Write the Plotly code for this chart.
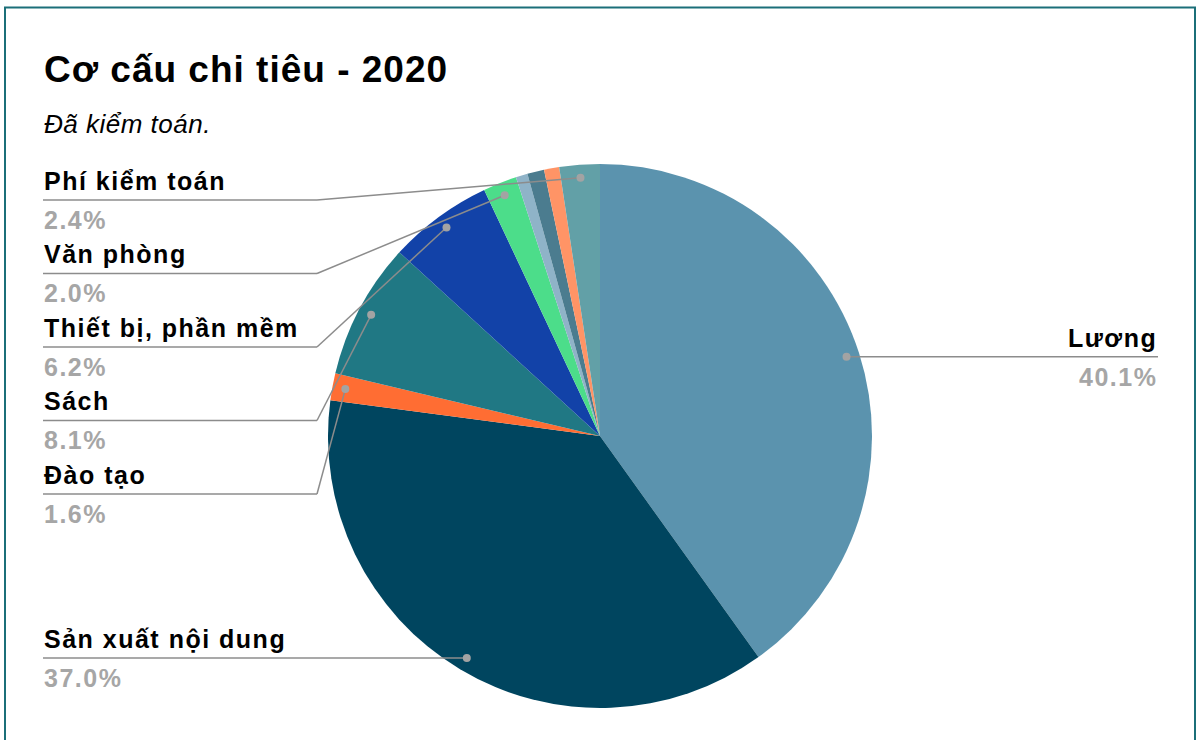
import math
import plotly.graph_objects as go

# ---------------- data ----------------
categories = ["Lương", "Sản xuất nội dung", "Đào tạo", "Sách", "Thiết bị, phần mềm",
              "Văn phòng", "Khác (1)", "Khác (2)", "Khác (3)", "Phí kiểm toán"]
values = [40.1, 37.0, 1.6, 8.1, 6.2, 2.0, 0.7, 1.0, 0.9, 2.4]
colors = ["#5b93ae", "#00455f", "#ff6d33", "#207884", "#1242a8",
          "#4cdd8a", "#8fb3c8", "#4b7c8f", "#ff9466", "#62a0a7"]
title_text = "Cơ cấu chi tiêu - 2020"
subtitle_text = "Đã kiểm toán."

# ---------------- layout constants ----------------
W, H = 1197, 740
CX, CY, R = 600, 436, 272          # pie centre / radius in px
DOT_R = 0.952                      # dot position as fraction of radius
LEFT_X, ELBOW_X, RIGHT_X = 43, 317, 1158
ROW_GAP, TOP_MIN = 73.5, 200
LABEL_MIN = 1.5                    # slices below this % get no label
FONT = "Liberation Sans, Arial, sans-serif"
NAME_SIZE = 25
NAME_SPACING = "1.5px"
LINE_COL, DOT_COL, PCT_COL = "#8c8c8c", "#a3a3a3", "#a6a6a6"


def xp(px):
    return px / W


def yp(py):
    return 1 - py / H


def center_for_baseline(baseline, size):
    return baseline - 0.3465 * size


fig = go.Figure(go.Pie(
    labels=categories, values=values, sort=False, direction="clockwise", rotation=0,
    marker=dict(colors=colors, line=dict(width=0)), textinfo="none", hoverinfo="label+percent",
    domain=dict(x=[xp(CX - R), xp(CX + R)], y=[yp(CY + R), yp(CY - R)]),
    showlegend=False,
))

total = sum(values)
cum = 0.0
items = []
for name, v in zip(categories, values):
    mid = (cum + v / 2) / total * 2 * math.pi
    cum += v
    if v / total * 100 < LABEL_MIN:
        continue
    dx = CX + DOT_R * R * math.sin(mid)
    dy = CY - DOT_R * R * math.cos(mid)
    items.append(dict(name=name, pct=v / total * 100, x=dx, y=dy))

shapes = []
annotations = []


def add_label(it, uy, side):
    if side == "left":
        shapes.append(dict(type="line", xref="paper", yref="paper",
                           x0=xp(it["x"]), y0=yp(it["y"]), x1=xp(ELBOW_X), y1=yp(uy),
                           line=dict(color=LINE_COL, width=1.5)))
        shapes.append(dict(type="line", xref="paper", yref="paper",
                           x0=xp(ELBOW_X), y0=yp(uy), x1=xp(LEFT_X), y1=yp(uy),
                           line=dict(color=LINE_COL, width=1.5)))
        ax, anchor = LEFT_X, "left"
    else:
        shapes.append(dict(type="line", xref="paper", yref="paper",
                           x0=xp(it["x"]), y0=yp(uy), x1=xp(RIGHT_X), y1=yp(uy),
                           line=dict(color=LINE_COL, width=1.5)))
        ax, anchor = RIGHT_X, "right"
    shapes.append(dict(type="circle", xref="paper", yref="paper",
                       x0=xp(it["x"] - 4), x1=xp(it["x"] + 4),
                       y0=yp(it["y"] + 4), y1=yp(it["y"] - 4),
                       fillcolor=DOT_COL, line=dict(width=0)))
    annotations.append(dict(
        text='<span style="letter-spacing:%s">%s</span>' % (NAME_SPACING, it["name"]),
        xref="paper", yref="paper", x=xp(ax), y=yp(center_for_baseline(uy - 10.5, NAME_SIZE)),
        xanchor=anchor, yanchor="middle", showarrow=False, borderpad=0,
        font=dict(family=FONT, size=NAME_SIZE, color="#000000", weight="bold")))
    annotations.append(dict(
        text='<span style="letter-spacing:%s">%.1f%%</span>' % (NAME_SPACING, it["pct"]),
        xref="paper", yref="paper", x=xp(ax), y=yp(center_for_baseline(uy + 28.5, NAME_SIZE)),
        xanchor=anchor, yanchor="middle", showarrow=False, borderpad=0,
        font=dict(family=FONT, size=NAME_SIZE, color=PCT_COL, weight="bold")))


left = sorted([it for it in items if it["x"] < CX], key=lambda d: d["y"])
right = sorted([it for it in items if it["x"] >= CX], key=lambda d: d["y"])
prev = None
for it in left:
    uy = max(it["y"], TOP_MIN if prev is None else prev + ROW_GAP)
    add_label(it, uy, "left")
    prev = uy
for it in right:
    add_label(it, it["y"], "right")

# title & subtitle
annotations.append(dict(
    text='<span style="letter-spacing:1px">%s</span>' % title_text,
    xref="paper", yref="paper", x=xp(LEFT_X), y=yp(center_for_baseline(82, 37)),
    xanchor="left", yanchor="middle", showarrow=False, borderpad=0,
    font=dict(family=FONT, size=37, color="#000000", weight="bold")))
annotations.append(dict(
    text='<span style="letter-spacing:0.5px">%s</span>' % subtitle_text,
    xref="paper", yref="paper", x=xp(LEFT_X), y=yp(center_for_baseline(133, 26)),
    xanchor="left", yanchor="middle", showarrow=False, borderpad=0,
    font=dict(family=FONT, size=26, color="#000000", style="italic")))

# chart border
shapes.append(dict(type="rect", xref="paper", yref="paper",
                   x0=xp(5), x1=xp(1195), y0=yp(760), y1=yp(7.5),
                   line=dict(color="#1b6f79", width=2), fillcolor="rgba(0,0,0,0)"))

fig.update_layout(
    width=W, height=H, autosize=False,
    margin=dict(l=0, r=0, t=0, b=0),
    paper_bgcolor="white", plot_bgcolor="white",
    shapes=shapes, annotations=annotations,
)
fig.write_html("out.html", config={"displayModeBar": False},
               post_script="document.body.style.margin='0';document.body.style.padding='0';"
                           "document.body.style.overflow='hidden';")
